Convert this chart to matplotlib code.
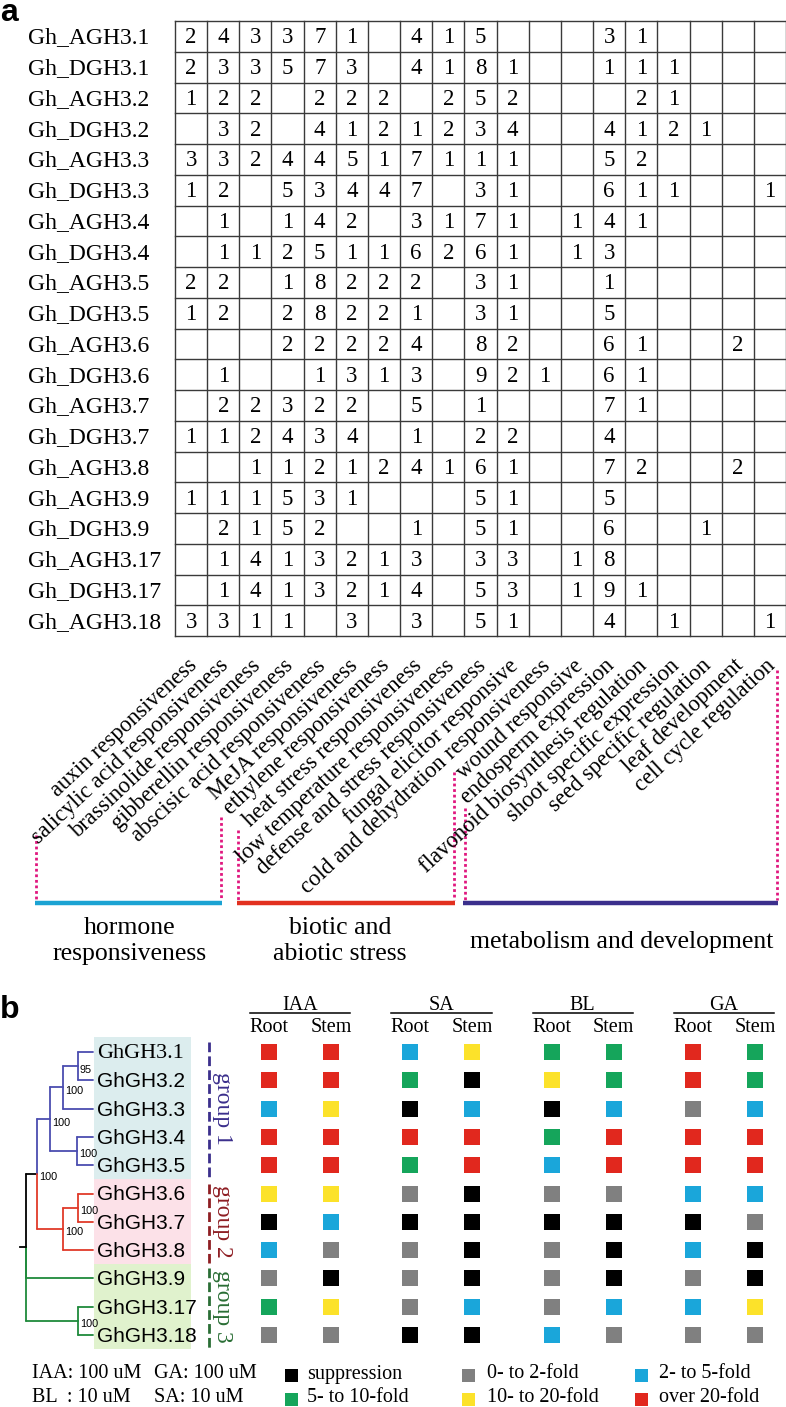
import matplotlib
matplotlib.use('Agg')
import matplotlib.pyplot as plt
from matplotlib.patches import Rectangle
from matplotlib.transforms import blended_transform_factory

W, H = 786, 1407
SERIF = ['Liberation Serif', 'DejaVu Serif']
SANS = ['Liberation Sans', 'DejaVu Sans']
NARROW = ['Liberation Sans Narrow', 'Liberation Sans', 'DejaVu Sans']

# ---------------- data: panel a ----------------
genes_a = ['Gh_AGH3.1', 'Gh_DGH3.1', 'Gh_AGH3.2', 'Gh_DGH3.2', 'Gh_AGH3.3', 'Gh_DGH3.3',
           'Gh_AGH3.4', 'Gh_DGH3.4', 'Gh_AGH3.5', 'Gh_DGH3.5', 'Gh_AGH3.6', 'Gh_DGH3.6',
           'Gh_AGH3.7', 'Gh_DGH3.7', 'Gh_AGH3.8', 'Gh_AGH3.9', 'Gh_DGH3.9', 'Gh_AGH3.17',
           'Gh_DGH3.17', 'Gh_AGH3.18']
elements = ['auxin responsiveness', 'salicylic acid responsiveness', 'brassinolide responsiveness',
            'gibberellin responsiveness', 'abscisic acid responsiveness', 'MeJA responsiveness',
            'ethylene responsiveness', 'heat stress responsiveness', 'low temperature responsiveness',
            'defense and stress responsiveness', 'fungal elicitor responsive',
            'cold and dehydration responsiveness', 'wound responsive', 'endosperm expression',
            'flavonoid biosynthesis regulation', 'shoot specific expression',
            'seed specific regulation', 'leaf development', 'cell cycle regulation']
# 0 = empty cell
counts = [
    [2, 4, 3, 3, 7, 1, 0, 4, 1, 5, 0, 0, 0, 3, 1, 0, 0, 0, 0],
    [2, 3, 3, 5, 7, 3, 0, 4, 1, 8, 1, 0, 0, 1, 1, 1, 0, 0, 0],
    [1, 2, 2, 0, 2, 2, 2, 0, 2, 5, 2, 0, 0, 0, 2, 1, 0, 0, 0],
    [0, 3, 2, 0, 4, 1, 2, 1, 2, 3, 4, 0, 0, 4, 1, 2, 1, 0, 0],
    [3, 3, 2, 4, 4, 5, 1, 7, 1, 1, 1, 0, 0, 5, 2, 0, 0, 0, 0],
    [1, 2, 0, 5, 3, 4, 4, 7, 0, 3, 1, 0, 0, 6, 1, 1, 0, 0, 1],
    [0, 1, 0, 1, 4, 2, 0, 3, 1, 7, 1, 0, 1, 4, 1, 0, 0, 0, 0],
    [0, 1, 1, 2, 5, 1, 1, 6, 2, 6, 1, 0, 1, 3, 0, 0, 0, 0, 0],
    [2, 2, 0, 1, 8, 2, 2, 2, 0, 3, 1, 0, 0, 1, 0, 0, 0, 0, 0],
    [1, 2, 0, 2, 8, 2, 2, 1, 0, 3, 1, 0, 0, 5, 0, 0, 0, 0, 0],
    [0, 0, 0, 2, 2, 2, 2, 4, 0, 8, 2, 0, 0, 6, 1, 0, 0, 2, 0],
    [0, 1, 0, 0, 1, 3, 1, 3, 0, 9, 2, 1, 0, 6, 1, 0, 0, 0, 0],
    [0, 2, 2, 3, 2, 2, 0, 5, 0, 1, 0, 0, 0, 7, 1, 0, 0, 0, 0],
    [1, 1, 2, 4, 3, 4, 0, 1, 0, 2, 2, 0, 0, 4, 0, 0, 0, 0, 0],
    [0, 0, 1, 1, 2, 1, 2, 4, 1, 6, 1, 0, 0, 7, 2, 0, 0, 2, 0],
    [1, 1, 1, 5, 3, 1, 0, 0, 0, 5, 1, 0, 0, 5, 0, 0, 0, 0, 0],
    [0, 2, 1, 5, 2, 0, 0, 1, 0, 5, 1, 0, 0, 6, 0, 0, 1, 0, 0],
    [0, 1, 4, 1, 3, 2, 1, 3, 0, 3, 3, 0, 1, 8, 0, 0, 0, 0, 0],
    [0, 1, 4, 1, 3, 2, 1, 4, 0, 5, 3, 0, 1, 9, 1, 0, 0, 0, 0],
    [3, 3, 1, 1, 0, 3, 0, 3, 0, 5, 1, 0, 0, 4, 0, 1, 0, 0, 1],
]
element_groups = ['hormone\nresponsiveness', 'biotic and\nabiotic stress', 'metabolism and development']
element_group_colors = ['#1BA3D3', '#E2301F', '#3B2F8C']

# ---------------- data: panel b ----------------
genes_b = ['GhGH3.1', 'GhGH3.2', 'GhGH3.3', 'GhGH3.4', 'GhGH3.5', 'GhGH3.6',
           'GhGH3.7', 'GhGH3.8', 'GhGH3.9', 'GhGH3.17', 'GhGH3.18']
treatments = ['IAA', 'SA', 'BL', 'GA']
tissues = ['Root', 'Stem']
level_names = ['suppression', '0- to 2-fold', '2- to 5-fold',
               '5- to 10-fold', '10- to 20-fold', 'over 20-fold']
level_colors = ['#000000', '#808080', '#1AA6DA', '#15A55B', '#FCE22A', '#E1281E']
# columns: IAA root, IAA stem, SA root, SA stem, BL root, BL stem, GA root, GA stem
levels = [
    [5, 5, 2, 4, 3, 3, 5, 3],
    [5, 5, 3, 0, 4, 3, 5, 3],
    [2, 4, 0, 2, 0, 2, 1, 2],
    [5, 5, 5, 5, 3, 5, 5, 5],
    [5, 5, 3, 5, 2, 5, 5, 5],
    [4, 4, 1, 0, 1, 1, 2, 2],
    [0, 2, 0, 0, 0, 0, 0, 1],
    [2, 1, 1, 0, 1, 0, 2, 0],
    [1, 0, 1, 0, 1, 0, 1, 0],
    [3, 4, 1, 2, 1, 2, 2, 4],
    [1, 1, 0, 0, 2, 1, 1, 1],
]
gene_groups = ['group 1', 'group 2', 'group 3']
gene_group_rows = [(0, 4), (5, 7), (8, 10)]
gene_group_bg = ['#DCEDEE', '#FCE1E8', '#E0F2CD']
gene_group_line = ['#3B2F8C', '#8E1E23', '#2A6E35']
clade_colors = ['#4B4DB0', '#E03A2A', '#1F8A3C']
# cladogram: (depth, children, bootstrap); leaves are gene indices
tree = (26, [
    (37, [
        (50, [(63, [(78, [0, 1], '95'), 2], '100'), (77, [3, 4], '100')], '100'),
        (63, [(78, [5, 6], '100'), 7], '100'),
    ], '100'),
    8,
    (78, [9, 10], '100'),
], None)
doses = [['IAA: 100 uM', 'GA: 100 uM'], ['BL  : 10 uM', 'SA: 10 uM']]

# ---------------- figure ----------------
fig = plt.figure(figsize=(W / 100, H / 100), dpi=100)


def px_axes(x0, y0, x1, y1):
    ax = fig.add_axes([x0 / W, 1 - y1 / H, (x1 - x0) / W, (y1 - y0) / H])
    ax.set_axis_off()
    return ax


ov = px_axes(0, 0, W, H)
ov.set_xlim(0, W)
ov.set_ylim(H, 0)

# ----- panel a table -----
nrow, ncol = len(genes_a), len(elements)
at = px_axes(175, 21, 786, 636)
at.set_xlim(0, ncol)
at.set_ylim(nrow, 0)
for i in range(nrow + 1):
    at.plot([0, ncol], [i, i], color='#3a3a3a', lw=1.0, clip_on=False, solid_capstyle='projecting')
for j in range(ncol + 1):
    at.plot([j, j], [0, nrow], color='#3a3a3a', lw=1.0, clip_on=False, solid_capstyle='projecting')
for i, row in enumerate(counts):
    for j, v in enumerate(row):
        if v:
            at.text(j + 0.5, i + 0.55, str(v), ha='center', va='center', fontsize=16.5, family=SERIF)
lab_tr = blended_transform_factory(fig.transFigure, at.transData)
for i, g in enumerate(genes_a):
    at.text(28 / W, i + 0.55, g, transform=lab_tr, ha='left', va='center', fontsize=17, family=SERIF)
for j, e in enumerate(elements):
    at.text(j + 0.5 + 0.2, nrow + 1.0, e, rotation=43, rotation_mode='anchor',
            ha='right', va='baseline', fontsize=16.3, family=SERIF)

# dotted guides and group brackets (layout, pixel coords)
dot_x = [36, 221, 238, 454, 465, 777]
dot_top = [835, 817, 830, 772, 808, 670]
for x, t in zip(dot_x, dot_top):
    ov.plot([x, x], [t, 900], color='#E0177F', lw=2.0, ls=(0, (1, 1)))
br_spans = [(35, 222), (237, 455), (463, 778)]
for (x0, x1), c in zip(br_spans, element_group_colors):
    ov.plot([x0, x1], [903, 903], color=c, lw=3.2, solid_capstyle='butt')
grp_pos = [(130, 941), (340, 941), (622, 942)]
for (x, y), t in zip(grp_pos, element_groups):
    ov.text(x, y, t, ha='center', va='center', fontsize=18.5, family=SERIF, linespacing=1.2)

ov.text(0, 21, 'a', fontsize=23, fontweight='bold', family=SANS, ha='left', va='baseline')
ov.text(0, 1018, 'b', fontsize=23, fontweight='bold', family=SANS, ha='left', va='baseline')

# ----- panel b heatmap -----
X0, DX, Y0, DY = 269, 62, 1052, 28.3
PAIR = 2.28
ah = px_axes(238, 990, 786, 1352)
ah.set_xlim((238 - X0) / DX, (786 - X0) / DX)
ah.set_ylim((1352 - Y0) / DY, (990 - Y0) / DY)
xs, ys, cs = [], [], []
for i, row in enumerate(levels):
    for k, lv in enumerate(row):
        xs.append((k // 2) * PAIR + (k % 2))
        ys.append(i)
        cs.append(level_colors[lv])
ah.scatter(xs, ys, marker='s', s=(16 * 0.72) ** 2, c=cs, linewidths=0)
for c, tname in enumerate(treatments):
    cx = c * PAIR
    ah.text(cx + 0.5, -1.47, tname, ha='center', va='baseline', fontsize=14.5, family=SERIF)
    ah.plot([cx - 0.31, cx + 1.31], [-1.39, -1.39], color='black', lw=1.1)
    for t, tis in enumerate(tissues):
        ah.text(cx + t, -0.71, tis, ha='center', va='baseline', fontsize=14.5, family=SERIF)

# ----- tree -----
tr = px_axes(0, 990, 260, 1352)
tr.set_xlim(0, 260)
tr.set_ylim((1352 - Y0) / DY, (990 - Y0) / DY)
TIP = 93
for (r0, r1), bg in zip(gene_group_rows, gene_group_bg):
    tr.add_patch(Rectangle((94, r0 - 0.52), 97, r1 - r0 + 1.02, color=bg, lw=0, zorder=0))
leaf_color = {}
for (r0, r1), c in zip(gene_group_rows, clade_colors):
    for r in range(r0, r1 + 1):
        leaf_color[r] = c


def node_y(n):
    if isinstance(n, int):
        return n
    return sum(node_y(ch) for ch in (n[1][0], n[1][-1])) / 2.0


def node_x(n):
    return TIP if isinstance(n, int) else n[0]


def node_color(n):
    if isinstance(n, int):
        return leaf_color[n]
    cols = {node_color(ch) for ch in n[1]}
    return cols.pop() if len(cols) == 1 else 'black'


def draw(n):
    if isinstance(n, int):
        return
    x, children, bs = n
    y = node_y(n)
    for ch in children:
        cy, cx, col = node_y(ch), node_x(ch), node_color(ch)
        tr.plot([x, x], [y, cy], color=col, lw=1.3, solid_capstyle='round')
        tr.plot([x, cx], [cy, cy], color=col, lw=1.3, solid_capstyle='round')
        draw(ch)
    if bs:
        tr.text(x + 2, y + 0.12, bs, ha='left', va='center', fontsize=7.8, family=NARROW)


draw(tree)
ry = node_y(tree)
tr.plot([20, tree[0]], [ry, ry], color='black', lw=1.3)

for i, g in enumerate(genes_b):
    fam = SERIF if i == 0 else SANS
    fs = 16 if i == 0 else 15
    tr.text(97, i + 0.05, g, ha='left', va='center', fontsize=fs, family=fam)

for (r0, r1), name, c in zip(gene_group_rows, gene_groups, gene_group_line):
    tr.plot([209, 209], [r0 - 0.35, r1 + 0.45], color=c, lw=2.0, ls=(0, (3.5, 1.5)))
    tr.text(222, (r0 + r1) / 2.0, name, rotation=270, ha='center', va='center',
            fontsize=17, family=SERIF, color=c)

# ----- legend -----
for r, pair in enumerate(doses):
    y = 1374 + 24 * r
    ov.text(32, y, pair[0], ha='left', va='center', fontsize=14.5, family=SERIF)
    ov.text(154, y, pair[1], ha='left', va='center', fontsize=14.5, family=SERIF)
sq_x = [285, 462, 635]
tx_x = [307, 487, 659]
for k, (name, col) in enumerate(zip(level_names, level_colors)):
    r, c = divmod(k, 3)
    y = 1374 + 24 * r
    ov.add_patch(Rectangle((sq_x[c], y - 5.5), 13, 13, color=col, lw=0))
    ov.text(tx_x[c], y, name, ha='left', va='center', fontsize=14.5, family=SERIF)

fig.savefig('out.png', dpi=100)
